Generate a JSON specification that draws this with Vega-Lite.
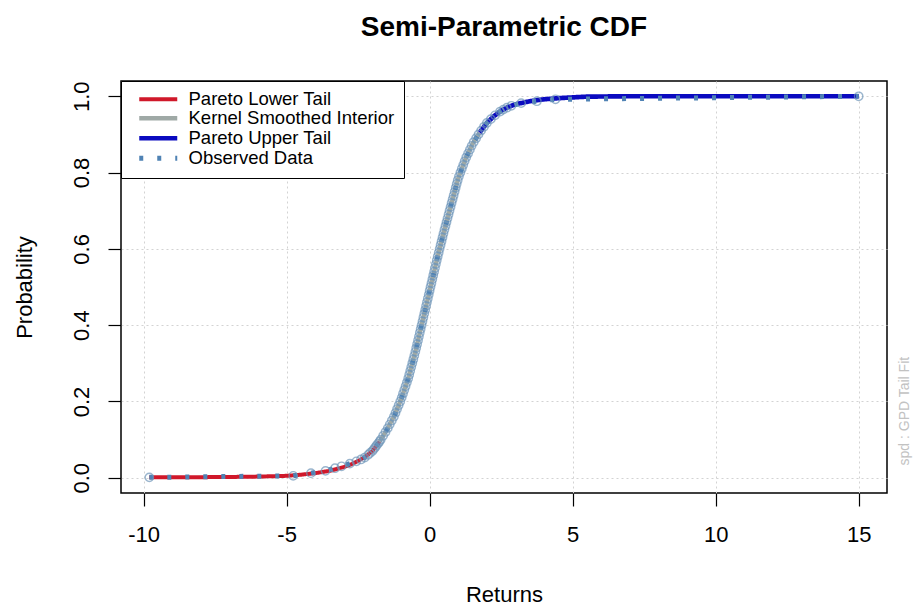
{
  "$schema": "https://vega.github.io/schema/vega-lite/v6.json",
  "width": 766,
  "height": 412,
  "autosize": {"type": "none"},
  "padding": {"left": 121, "top": 81, "right": 26, "bottom": 114},
  "background": "white",
  "title": {"text": "Semi-Parametric CDF", "fontSize": 28, "font": "Liberation Sans", "fontWeight": "bold", "color": "black", "anchor": "middle", "offset": 39},
  "config": {
    "font": "Liberation Sans",
    "view": {"stroke": "black", "strokeWidth": 1.5},
    "axis": {
      "domain": false,
      "tickSize": 13,
      "tickColor": "black",
      "tickWidth": 1.2,
      "labelFontSize": 22,
      "labelColor": "black",
      "titleFontSize": 22,
      "titleFontWeight": "normal",
      "titleColor": "black",
      "grid": true,
      "gridColor": "#D3D3D3",
      "gridDash": [2, 3],
      "labelFlush": false,
      "labelOverlap": false
    },
    "legend": {
      "orient": "top-left",
      "offset": 0,
      "padding": 9,
      "strokeColor": "black",
      "fillColor": "white",
      "labelFontSize": 18.5,
      "labelColor": "black",
      "labelLimit": 400,
      "symbolSize": 100,
      "symbolStrokeWidth": 4,
      "rowPadding": 0,
      "labelOffset": 40
    }
  },
  "data": {
    "values": [
      {"x": -9.8, "p": 0.001, "series": "Pareto Lower Tail"},
      {"x": -8, "p": 0.0015, "series": "Pareto Lower Tail"},
      {"x": -7, "p": 0.002, "series": "Pareto Lower Tail"},
      {"x": -6, "p": 0.003, "series": "Pareto Lower Tail"},
      {"x": -5, "p": 0.005, "series": "Pareto Lower Tail"},
      {"x": -4.5, "p": 0.008, "series": "Pareto Lower Tail"},
      {"x": -4, "p": 0.012, "series": "Pareto Lower Tail"},
      {"x": -3.5, "p": 0.018, "series": "Pareto Lower Tail"},
      {"x": -3, "p": 0.028, "series": "Pareto Lower Tail"},
      {"x": -2.75, "p": 0.035, "series": "Pareto Lower Tail"},
      {"x": -2.5, "p": 0.044, "series": "Pareto Lower Tail"},
      {"x": -2.25, "p": 0.055, "series": "Pareto Lower Tail"},
      {"x": -2.0, "p": 0.07, "series": "Pareto Lower Tail"},
      {"x": -1.75, "p": 0.095, "series": "Pareto Lower Tail"},
      {"x": -1.75, "p": 0.095, "series": "Kernel Smoothed Interior"},
      {"x": -1.5, "p": 0.125, "series": "Kernel Smoothed Interior"},
      {"x": -1.25, "p": 0.16, "series": "Kernel Smoothed Interior"},
      {"x": -1.0, "p": 0.205, "series": "Kernel Smoothed Interior"},
      {"x": -0.75, "p": 0.26, "series": "Kernel Smoothed Interior"},
      {"x": -0.5, "p": 0.33, "series": "Kernel Smoothed Interior"},
      {"x": -0.25, "p": 0.41, "series": "Kernel Smoothed Interior"},
      {"x": 0, "p": 0.49, "series": "Kernel Smoothed Interior"},
      {"x": 0.25, "p": 0.57, "series": "Kernel Smoothed Interior"},
      {"x": 0.5, "p": 0.645, "series": "Kernel Smoothed Interior"},
      {"x": 0.75, "p": 0.715, "series": "Kernel Smoothed Interior"},
      {"x": 1.0, "p": 0.785, "series": "Kernel Smoothed Interior"},
      {"x": 1.25, "p": 0.835, "series": "Kernel Smoothed Interior"},
      {"x": 1.5, "p": 0.875, "series": "Kernel Smoothed Interior"},
      {"x": 1.75, "p": 0.905, "series": "Kernel Smoothed Interior"},
      {"x": 1.75, "p": 0.905, "series": "Pareto Upper Tail"},
      {"x": 2.0, "p": 0.93, "series": "Pareto Upper Tail"},
      {"x": 2.25, "p": 0.948, "series": "Pareto Upper Tail"},
      {"x": 2.5, "p": 0.962, "series": "Pareto Upper Tail"},
      {"x": 2.75, "p": 0.972, "series": "Pareto Upper Tail"},
      {"x": 3.0, "p": 0.979, "series": "Pareto Upper Tail"},
      {"x": 3.5, "p": 0.987, "series": "Pareto Upper Tail"},
      {"x": 4.0, "p": 0.992, "series": "Pareto Upper Tail"},
      {"x": 4.5, "p": 0.995, "series": "Pareto Upper Tail"},
      {"x": 5.0, "p": 0.997, "series": "Pareto Upper Tail"},
      {"x": 5.5, "p": 0.999, "series": "Pareto Upper Tail"},
      {"x": 7, "p": 1.0, "series": "Pareto Upper Tail"},
      {"x": 10, "p": 1.0, "series": "Pareto Upper Tail"},
      {"x": 15, "p": 1.0, "series": "Pareto Upper Tail"},
      {"x": -9.8, "p": 0.001, "series": "Observed Data"},
      {"x": -4.77, "p": 0.005, "series": "Observed Data"},
      {"x": -4.15, "p": 0.012, "series": "Observed Data"},
      {"x": -3.64, "p": 0.018, "series": "Observed Data"},
      {"x": -3.31, "p": 0.025, "series": "Observed Data"},
      {"x": -3.08, "p": 0.03, "series": "Observed Data"},
      {"x": -2.79, "p": 0.037, "series": "Observed Data"},
      {"x": -2.56, "p": 0.043, "series": "Observed Data"},
      {"x": -2.4, "p": 0.048, "series": "Observed Data"},
      {"x": -2.27, "p": 0.053, "series": "Observed Data"},
      {"x": -2.15, "p": 0.06, "series": "Observed Data"},
      {"x": -2.083, "p": 0.065, "series": "Observed Data"},
      {"x": -2.0, "p": 0.07, "series": "Observed Data"},
      {"x": -1.95, "p": 0.075, "series": "Observed Data"},
      {"x": -1.9, "p": 0.08, "series": "Observed Data"},
      {"x": -1.85, "p": 0.085, "series": "Observed Data"},
      {"x": -1.8, "p": 0.09, "series": "Observed Data"},
      {"x": -1.75, "p": 0.095, "series": "Observed Data"},
      {"x": -1.708, "p": 0.1, "series": "Observed Data"},
      {"x": -1.625, "p": 0.11, "series": "Observed Data"},
      {"x": -1.542, "p": 0.12, "series": "Observed Data"},
      {"x": -1.464, "p": 0.13, "series": "Observed Data"},
      {"x": -1.393, "p": 0.14, "series": "Observed Data"},
      {"x": -1.321, "p": 0.15, "series": "Observed Data"},
      {"x": -1.25, "p": 0.16, "series": "Observed Data"},
      {"x": -1.194, "p": 0.17, "series": "Observed Data"},
      {"x": -1.139, "p": 0.18, "series": "Observed Data"},
      {"x": -1.083, "p": 0.19, "series": "Observed Data"},
      {"x": -1.028, "p": 0.2, "series": "Observed Data"},
      {"x": -0.977, "p": 0.21, "series": "Observed Data"},
      {"x": -0.932, "p": 0.22, "series": "Observed Data"},
      {"x": -0.886, "p": 0.23, "series": "Observed Data"},
      {"x": -0.841, "p": 0.24, "series": "Observed Data"},
      {"x": -0.795, "p": 0.25, "series": "Observed Data"},
      {"x": -0.75, "p": 0.26, "series": "Observed Data"},
      {"x": -0.714, "p": 0.27, "series": "Observed Data"},
      {"x": -0.679, "p": 0.28, "series": "Observed Data"},
      {"x": -0.643, "p": 0.29, "series": "Observed Data"},
      {"x": -0.607, "p": 0.3, "series": "Observed Data"},
      {"x": -0.571, "p": 0.31, "series": "Observed Data"},
      {"x": -0.536, "p": 0.32, "series": "Observed Data"},
      {"x": -0.5, "p": 0.33, "series": "Observed Data"},
      {"x": -0.469, "p": 0.34, "series": "Observed Data"},
      {"x": -0.438, "p": 0.35, "series": "Observed Data"},
      {"x": -0.406, "p": 0.36, "series": "Observed Data"},
      {"x": -0.375, "p": 0.37, "series": "Observed Data"},
      {"x": -0.344, "p": 0.38, "series": "Observed Data"},
      {"x": -0.313, "p": 0.39, "series": "Observed Data"},
      {"x": -0.281, "p": 0.4, "series": "Observed Data"},
      {"x": -0.25, "p": 0.41, "series": "Observed Data"},
      {"x": -0.219, "p": 0.42, "series": "Observed Data"},
      {"x": -0.188, "p": 0.43, "series": "Observed Data"},
      {"x": -0.156, "p": 0.44, "series": "Observed Data"},
      {"x": -0.125, "p": 0.45, "series": "Observed Data"},
      {"x": -0.094, "p": 0.46, "series": "Observed Data"},
      {"x": -0.063, "p": 0.47, "series": "Observed Data"},
      {"x": -0.031, "p": 0.48, "series": "Observed Data"},
      {"x": 0.0, "p": 0.49, "series": "Observed Data"},
      {"x": 0.031, "p": 0.5, "series": "Observed Data"},
      {"x": 0.063, "p": 0.51, "series": "Observed Data"},
      {"x": 0.094, "p": 0.52, "series": "Observed Data"},
      {"x": 0.125, "p": 0.53, "series": "Observed Data"},
      {"x": 0.156, "p": 0.54, "series": "Observed Data"},
      {"x": 0.188, "p": 0.55, "series": "Observed Data"},
      {"x": 0.219, "p": 0.56, "series": "Observed Data"},
      {"x": 0.25, "p": 0.57, "series": "Observed Data"},
      {"x": 0.283, "p": 0.58, "series": "Observed Data"},
      {"x": 0.317, "p": 0.59, "series": "Observed Data"},
      {"x": 0.35, "p": 0.6, "series": "Observed Data"},
      {"x": 0.383, "p": 0.61, "series": "Observed Data"},
      {"x": 0.417, "p": 0.62, "series": "Observed Data"},
      {"x": 0.45, "p": 0.63, "series": "Observed Data"},
      {"x": 0.483, "p": 0.64, "series": "Observed Data"},
      {"x": 0.518, "p": 0.65, "series": "Observed Data"},
      {"x": 0.554, "p": 0.66, "series": "Observed Data"},
      {"x": 0.589, "p": 0.67, "series": "Observed Data"},
      {"x": 0.625, "p": 0.68, "series": "Observed Data"},
      {"x": 0.661, "p": 0.69, "series": "Observed Data"},
      {"x": 0.696, "p": 0.7, "series": "Observed Data"},
      {"x": 0.732, "p": 0.71, "series": "Observed Data"},
      {"x": 0.768, "p": 0.72, "series": "Observed Data"},
      {"x": 0.804, "p": 0.73, "series": "Observed Data"},
      {"x": 0.839, "p": 0.74, "series": "Observed Data"},
      {"x": 0.875, "p": 0.75, "series": "Observed Data"},
      {"x": 0.911, "p": 0.76, "series": "Observed Data"},
      {"x": 0.946, "p": 0.77, "series": "Observed Data"},
      {"x": 0.982, "p": 0.78, "series": "Observed Data"},
      {"x": 1.025, "p": 0.79, "series": "Observed Data"},
      {"x": 1.075, "p": 0.8, "series": "Observed Data"},
      {"x": 1.125, "p": 0.81, "series": "Observed Data"},
      {"x": 1.175, "p": 0.82, "series": "Observed Data"},
      {"x": 1.225, "p": 0.83, "series": "Observed Data"},
      {"x": 1.281, "p": 0.84, "series": "Observed Data"},
      {"x": 1.344, "p": 0.85, "series": "Observed Data"},
      {"x": 1.406, "p": 0.86, "series": "Observed Data"},
      {"x": 1.469, "p": 0.87, "series": "Observed Data"},
      {"x": 1.542, "p": 0.88, "series": "Observed Data"},
      {"x": 1.625, "p": 0.89, "series": "Observed Data"},
      {"x": 1.708, "p": 0.9, "series": "Observed Data"},
      {"x": 1.8, "p": 0.91, "series": "Observed Data"},
      {"x": 1.9, "p": 0.92, "series": "Observed Data"},
      {"x": 2.0, "p": 0.93, "series": "Observed Data"},
      {"x": 2.139, "p": 0.94, "series": "Observed Data"},
      {"x": 2.286, "p": 0.95, "series": "Observed Data"},
      {"x": 2.464, "p": 0.96, "series": "Observed Data"},
      {"x": 2.575, "p": 0.965, "series": "Observed Data"},
      {"x": 2.7, "p": 0.97, "series": "Observed Data"},
      {"x": 2.857, "p": 0.975, "series": "Observed Data"},
      {"x": 3.2, "p": 0.982, "series": "Observed Data"},
      {"x": 3.75, "p": 0.987, "series": "Observed Data"},
      {"x": 4.4, "p": 0.992, "series": "Observed Data"},
      {"x": 15, "p": 1.0, "series": "Observed Data"}
    ]
  },
  "encoding": {
    "x": {
      "field": "x",
      "type": "quantitative",
      "scale": {"domain": [-10.79, 15.99], "nice": false, "zero": false},
      "axis": {"title": "Returns", "values": [-10, -5, 0, 5, 10, 15], "labelExpr": "datum.value < 0 ? '-' + abs(datum.value) : '' + datum.value", "labelPadding": 18, "titlePadding": 39}
    }
  },
  "layer": [
    {
      "mark": {"type": "line", "strokeCap": "butt"},
      "encoding": {
        "y": {
          "field": "p",
          "type": "quantitative",
          "scale": {"domain": [-0.04, 1.04], "nice": false, "zero": false},
          "axis": {"title": "Probability", "orient": "left", "values": [0, 0.2, 0.4, 0.6, 0.8, 1.0], "format": ".1f", "labelAngle": -90, "labelPadding": 15, "titlePadding": 34}
        },
        "color": {
          "field": "series",
          "type": "nominal",
          "scale": {
            "domain": ["Pareto Lower Tail", "Kernel Smoothed Interior", "Pareto Upper Tail", "Observed Data"],
            "range": ["#D0182A", "#9FA9A6", "#0A0AC0", "#4F82B4"]
          },
          "legend": {"title": null, "symbolType": "M0,0H7.6"}
        },
        "strokeDash": {
          "field": "series",
          "type": "nominal",
          "scale": {
            "domain": ["Pareto Lower Tail", "Kernel Smoothed Interior", "Pareto Upper Tail", "Observed Data"],
            "range": [[1, 0], [1, 0], [1, 0], [4, 14]]
          },
          "legend": {"title": null, "symbolType": "M0,0H7.6"}
        },
        "strokeWidth": {
          "field": "series",
          "type": "nominal",
          "scale": {
            "domain": ["Pareto Lower Tail", "Kernel Smoothed Interior", "Pareto Upper Tail", "Observed Data"],
            "range": [4, 5, 4, 2.5]
          },
          "legend": null
        }
      }
    },
    {
      "transform": [{"filter": "datum.series === 'Observed Data'"}],
      "mark": {"type": "point", "shape": "circle", "filled": false, "size": 70, "strokeWidth": 1.4, "color": "#7097BA"},
      "encoding": {
        "y": {
          "field": "p",
          "type": "quantitative",
          "scale": {"domain": [-0.04, 1.04], "nice": false, "zero": false},
          "axis": {"title": "spd : GPD Tail Fit", "orient": "right", "labels": false, "ticks": false, "grid": false, "domain": false, "titleColor": "#C2C2C2", "titleFontSize": 14, "titleAngle": 270, "titleAnchor": "start", "titleAlign": "left", "titleY": 384, "titlePadding": 24}
        }
      }
    }
  ],
  "resolve": {"axis": {"y": "independent"}}
}
